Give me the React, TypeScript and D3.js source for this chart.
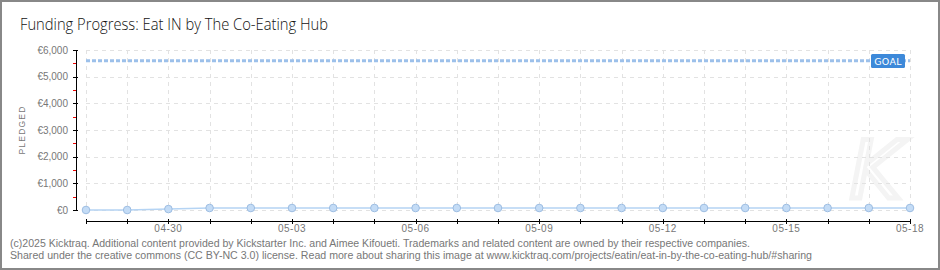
import React from "react";
import * as d3 from "d3";

const W = 940;
const H = 270;

const dates: string[] = [
  "2025-04-28", "2025-04-29", "2025-04-30", "2025-05-01", "2025-05-02", "2025-05-03", "2025-05-04",
  "2025-05-05", "2025-05-06", "2025-05-07", "2025-05-08", "2025-05-09", "2025-05-10", "2025-05-11",
  "2025-05-12", "2025-05-13", "2025-05-14", "2025-05-15", "2025-05-16", "2025-05-17", "2025-05-18",
];
const pledged: number[] = [0, 0, 35, 75, 75, 75, 75, 75, 75, 75, 75, 75, 75, 75, 75, 75, 75, 75, 75, 75, 75];
const goal = 5600;
const yTicks: number[] = [0, 1000, 2000, 3000, 4000, 5000, 6000];
const yMinorTicks: number[] = [500, 1500, 2500, 3500, 4500, 5500];
const xLabelDates: string[] = ["2025-04-30", "2025-05-03", "2025-05-06", "2025-05-09", "2025-05-12", "2025-05-15", "2025-05-18"];

const title = "Funding Progress: Eat IN by The Co-Eating Hub";
const footer1 =
  "(c)2025 Kicktraq. Additional content provided by Kickstarter Inc. and Aimee Kifoueti. Trademarks and related content are owned by their respective companies.";
const footer2 =
  "Shared under the creative commons (CC BY-NC 3.0) license. Read more about sharing this image at www.kicktraq.com/projects/eatin/eat-in-by-the-co-eating-hub/#sharing";

const parse = d3.utcParse("%Y-%m-%d");
const fmt = d3.utcFormat("%m-%d");

export default function App() {
  React.useEffect(() => {
    document.body.style.margin = "0";
  }, []);

  const data = dates.map((d, i) => ({ date: parse(d) as Date, v: pledged[i] }));
  const x = d3
    .scaleUtc()
    .domain([parse(dates[0]) as Date, parse(dates[dates.length - 1]) as Date])
    .range([86, 910]);
  const y = d3.scaleLinear().domain([0, 6000]).range([210, 50]);

  const line = d3
    .line<{ date: Date; v: number }>()
    .x((d) => x(d.date))
    .y((d) => y(d.v));

  const axisX = 76;
  const axisY = 221;
  const font = "'Liberation Sans', Arial, sans-serif";
  const fmtEuro = (v: number) => "€" + d3.format(",")(v);

  return (
    <svg width={W} height={H} style={{ display: "block", position: "absolute", left: 0, top: 0 }}>
      <rect x={0} y={0} width={W} height={H} fill="#fff" />
      <rect x={1} y={1} width={W - 2} height={H - 2} fill="none" stroke="#888" strokeWidth={2} />

      {/* watermark */}
      <text x={876} y={198} textAnchor="middle" fontSize={80} fontStyle="italic" fontFamily="'DejaVu Sans', sans-serif" fill="none" stroke="#f4f4f4" strokeWidth={5}>
        K
      </text>

      {/* title */}
      <text x={20} y={30} fontSize={16} fontFamily="'Open Sans', 'Liberation Sans', sans-serif" fontWeight={300} fill="#111" textLength={308} lengthAdjust="spacingAndGlyphs">
        {title}
      </text>

      {/* grid */}
      <g stroke="#e2e2e2" strokeWidth={1} strokeDasharray="4,4" shapeRendering="crispEdges">
        {yTicks.map((t) => (
          <line key={"h" + t} x1={86} x2={910} y1={Math.round(y(t)) + 0.5} y2={Math.round(y(t)) + 0.5} />
        ))}
        {data.map((d, i) => (
          <line key={"v" + i} x1={Math.round(x(d.date)) + 0.5} x2={Math.round(x(d.date)) + 0.5} y1={50} y2={210} />
        ))}
      </g>

      {/* goal line */}
      <line x1={86} x2={910} y1={y(goal)} y2={y(goal)} stroke="#9cc0ea" strokeWidth={3} strokeDasharray="4,2" />
      <g>
        <rect x={871} y={54} width={34} height={14} rx={1.5} fill="#3d89d9" />
        <text x={888} y={64.5} textAnchor="middle" fontSize={9.5} fontFamily="'DejaVu Sans', sans-serif" fill="#fff" letterSpacing={0.3}>
          GOAL
        </text>
      </g>

      {/* y axis */}
      <g shapeRendering="crispEdges">
        <line x1={axisX + 0.5} x2={axisX + 0.5} y1={y(6000)} y2={y(0)} stroke="#000" strokeWidth={1.5} />
        {yTicks.map((t) => (
          <line key={"yt" + t} x1={axisX - 3} x2={axisX + 2} y1={Math.round(y(t)) + 0.5} y2={Math.round(y(t)) + 0.5} stroke="#000" />
        ))}
        {yMinorTicks.map((t) => (
          <line key={"ym" + t} x1={axisX - 3} x2={axisX} y1={Math.round(y(t)) + 0.5} y2={Math.round(y(t)) + 0.5} stroke="#e00" />
        ))}
      </g>
      {yTicks.map((t) => (
        <text key={"yl" + t} x={68} y={y(t) + 3.5} textAnchor="end" fontSize={10} fontFamily={font} fill="#777">
          {fmtEuro(t)}
        </text>
      ))}
      <text
        transform={`translate(25,130) rotate(-90)`}
        textAnchor="middle"
        fontSize={8.5}
        fontFamily={font}
        fill="#777"
        letterSpacing={1.2}
      >
        PLEDGED
      </text>

      {/* x axis */}
      <g shapeRendering="crispEdges">
        <line x1={86} x2={910} y1={axisY + 0.5} y2={axisY + 0.5} stroke="#000" strokeWidth={1.5} />
        {data.map((d, i) => (
          <line key={"xt" + i} x1={Math.round(x(d.date)) + 0.5} x2={Math.round(x(d.date)) + 0.5} y1={axisY - 2} y2={axisY + 3} stroke="#000" />
        ))}
      </g>
      {xLabelDates.map((s) => {
        const dt = parse(s) as Date;
        return (
          <text key={"xl" + s} x={x(dt)} y={232} textAnchor="middle" fontSize={10} fontFamily={font} fill="#777" letterSpacing={0.5}>
            {fmt(dt)}
          </text>
        );
      })}

      {/* series */}
      <path d={line(data) || ""} fill="none" stroke="#b5d4f4" strokeWidth={1.5} />
      {data.map((d, i) => (
        <circle key={"c" + i} cx={x(d.date)} cy={y(d.v)} r={3.8} fill="#c4dcf6" stroke="#9dbde2" strokeWidth={1} />
      ))}

      {/* footer */}
      <text x={10} y={247} fontSize={10} fontFamily={font} fill="#777" textLength={740} lengthAdjust="spacingAndGlyphs">
        {footer1}
      </text>
      <text x={10} y={259} fontSize={10} fontFamily={font} fill="#777" textLength={802} lengthAdjust="spacingAndGlyphs">
        {footer2}
      </text>
    </svg>
  );
}
